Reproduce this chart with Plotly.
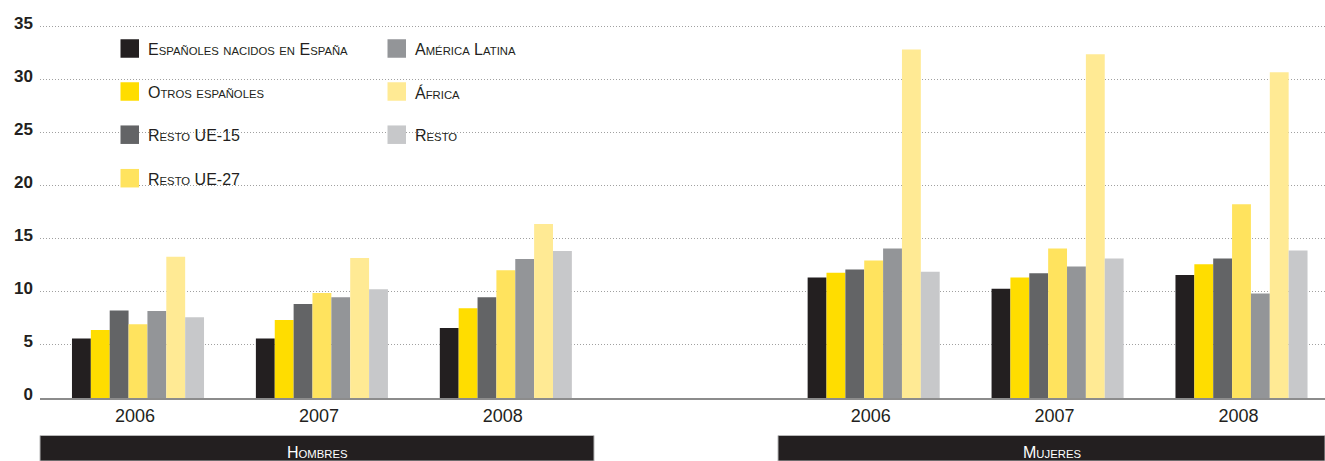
import plotly.graph_objects as go

# ---------------- data ----------------
years = ["2006", "2007", "2008"]
groups = ["Hombres", "Mujeres"]

series_names = [
    "Españoles nacidos en España",
    "Otros españoles",
    "Resto UE-15",
    "Resto UE-27",
    "América Latina",
    "África",
    "Resto",
]
series_colors = ["#231F20", "#FFDD00", "#636466", "#FFE35E", "#939598", "#FFEA94", "#C7C8CA"]

# values: Hombres 2006, 2007, 2008, Mujeres 2006, 2007, 2008
esp_espana = [5.6, 5.6, 6.6, 11.35, 10.3, 11.6]
otros_esp = [6.4, 7.35, 8.45, 11.8, 11.35, 12.6]
resto_ue15 = [8.25, 8.85, 9.5, 12.1, 11.75, 13.15]
resto_ue27 = [6.95, 9.9, 12.05, 12.95, 14.1, 18.25]
america_lat = [8.2, 9.5, 13.1, 14.1, 12.4, 9.85]
africa = [13.3, 13.2, 16.4, 32.85, 32.4, 30.7]
resto = [7.6, 10.25, 13.85, 11.9, 13.15, 13.9]
series_values = [esp_espana, otros_esp, resto_ue15, resto_ue27, america_lat, africa, resto]

y_ticks = [0, 5, 10, 15, 20, 25, 30, 35]

# ---------------- layout helpers ----------------
W, H = 1325, 461
ML, MR, MT, MB = 40, 0, 16, 63
PW, PH = W - ML - MR, H - MT - MB

def px_x(px):
    return (px - ML) / PW

def px_y(py):
    return (H - MB - py) / PH

def small_caps(text, big, small):
    out = []
    for ch in text:
        if ch.islower():
            out.append('<span style="font-size:%spx">%s</span>' % (small, ch.upper()))
        else:
            out.append(ch)
    return '<span style="font-size:%spx">%s</span>' % (big, "".join(out))

# category positions: groups separated by an empty slot
positions = []
tick_text = []
for gi, g in enumerate(groups):
    for yi, yr in enumerate(years):
        positions.append(gi * (len(years) + 1) + yi)
        tick_text.append(yr)

FONT = "Liberation Sans, Arial, Helvetica, sans-serif"
INK = "#231F20"

fig = go.Figure()
for name, color, vals in zip(series_names, series_colors, series_values):
    fig.add_trace(go.Bar(
        x=positions, y=vals, name=name,
        marker=dict(color=color, line=dict(width=0)),
        showlegend=False,
        hovertemplate=name + ": %{y}<extra></extra>",
    ))

shapes = []
annotations = []

# legend (two columns)
legend_cols = [[0, 1, 2, 3], [4, 5, 6]]
col_x = [120.5, 387.5]
row_y = [48.5, 91.5, 134.7, 178.2]
sw = 18.5
for ci, idxs in enumerate(legend_cols):
    for ri, si in enumerate(idxs):
        cx, cy = col_x[ci], row_y[ri]
        shapes.append(dict(
            type="rect", xref="paper", yref="paper",
            x0=px_x(cx), x1=px_x(cx + sw), y0=px_y(cy - sw / 2), y1=px_y(cy + sw / 2),
            fillcolor=series_colors[si], line=dict(width=0), layer="above",
        ))
        annotations.append(dict(
            xref="paper", yref="paper", x=px_x(cx + sw + 7), y=px_y(cy + 1),
            xanchor="left", yanchor="middle", showarrow=False,
            text=small_caps(series_names[si], 16, 11.3),
            font=dict(family=FONT, color=INK),
        ))

# group bands at the bottom
bands = [(40, 594), (778, 1325)]
for (bx0, bx1), g in zip(bands, groups):
    shapes.append(dict(
        type="rect", xref="paper", yref="paper",
        x0=px_x(bx0), x1=px_x(bx1), y0=px_y(461), y1=px_y(435.5),
        fillcolor=INK, line=dict(width=1, color="#B8B8B8"), layer="above",
    ))
    annotations.append(dict(
        xref="paper", yref="paper", x=px_x((bx0 + bx1) / 2), y=px_y(452),
        xanchor="center", yanchor="middle", showarrow=False,
        text=small_caps(g, 16, 11.3),
        font=dict(family=FONT, color="#FFFFFF"),
    ))

# x range so that category centres land where the reference puts them
unit = (1241.5 - 138) / 6.0
x_min = -(138 - ML) / unit
x_max = (W - 138) / unit

fig.update_layout(
    width=W, height=H,
    margin=dict(l=ML, r=MR, t=MT, b=MB, autoexpand=False),
    paper_bgcolor="white", plot_bgcolor="white",
    barmode="group", bargap=0.282, bargroupgap=0,
    showlegend=False,
    shapes=shapes, annotations=annotations,
    font=dict(family=FONT, color=INK),
    xaxis=dict(
        range=[x_min, x_max], tickmode="array", tickvals=positions, ticktext=tick_text,
        showgrid=False, zeroline=False, showline=True, linecolor="#8C8C8C", linewidth=2,
        ticks="", tickfont=dict(family=FONT, size=18, color=INK), ticklabelshift=-3,
        automargin=False, fixedrange=True,
    ),
    yaxis=dict(
        range=[0, 36], tickmode="array", tickvals=y_ticks,
        showgrid=True, gridcolor="#A0A0A0", gridwidth=1, griddash="1px,2px",
        zeroline=False, showline=False, ticks="",
        tickfont=dict(family=FONT, size=17, color=INK, weight="bold"),
        ticklabelstandoff=6, ticklabelshift=-4,
        automargin=False, fixedrange=True,
    ),
)

fig.write_html(
    "out.html",
    config={"displayModeBar": False},
    post_script="document.body.style.margin='0';document.body.style.overflow='hidden';",
)
